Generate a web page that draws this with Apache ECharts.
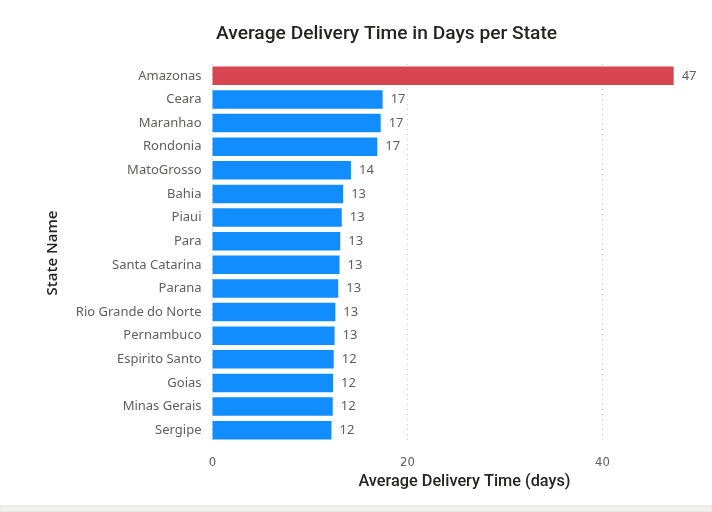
<!DOCTYPE html>
<html><head><meta charset="utf-8">
<script src="https://cdn.jsdelivr.net/npm/echarts@6/dist/echarts.min.js"></script>
<style>html,body{margin:0;padding:0;background:#fff}#c{width:712px;height:512px}</style>
</head><body><div id="c"></div>
<script>
const states = ['Amazonas','Ceara','Maranhao','Rondonia','MatoGrosso','Bahia','Piaui','Para','Santa Catarina','Parana','Rio Grande do Norte','Pernambuco','Espirito Santo','Goias','Minas Gerais','Sergipe'];
const days = [47.3,17.45,17.25,16.9,14.2,13.4,13.26,13.1,13.03,12.9,12.6,12.52,12.43,12.36,12.33,12.2];
const highlight = 'Amazonas';
const xTicks = [0,20,40];

const chart = echarts.init(document.getElementById('c'));
chart.setOption({
  animation:false,
  title:{text:'Average Delivery Time in Days per State',left:211,top:20,
    textStyle:{fontFamily:'Roboto',fontSize:19.2,fontWeight:500,color:'#252423'}},
  grid:{left:212.5,right:31.5,top:64,bottom:70},
  xAxis:{type:'value',min:0,max:48,interval:20,
    name:'Average Delivery Time (days)',nameLocation:'middle',nameGap:32,
    nameTextStyle:{fontFamily:'Roboto',fontSize:16.3,fontWeight:500,color:'#252423',padding:[0,0,0,36]},
    axisLine:{show:false},axisTick:{show:false},
    axisLabel:{margin:14,fontFamily:'DejaVu Sans Condensed',fontSize:13,color:'#605E5C',
      formatter:v=>xTicks.includes(v)?String(v):''},
    splitLine:{show:true,showMaxLine:false,lineStyle:{type:[1,4],color:'#C8C6C4',width:1}}},
  yAxis:{type:'category',data:states,inverse:true,
    name:'State Name',nameLocation:'middle',nameRotate:90,nameGap:152,
    nameTextStyle:{fontFamily:'Open Sans',fontSize:15,fontWeight:600,color:'#252423'},
    axisLine:{show:false},axisTick:{show:false},
    axisLabel:{margin:11,fontFamily:'Noto Sans',fontSize:13,color:'#605E5C'}},
  series:[{type:'bar',barCategoryGap:'22%',
    data:days.map((v,i)=>({value:v,itemStyle:{color:states[i]===highlight?'#D64550':'#118DFF'}})),
    label:{show:true,position:'right',distance:8,fontFamily:'Noto Sans',fontSize:13,color:'#605E5C',
      formatter:p=>Math.round(p.value)}}],
  graphic:[{type:'rect',shape:{x:0,y:506,width:712,height:6},style:{fill:'#F3F2F1',stroke:'#E1DFDD',lineWidth:1}}]
});
</script></body></html>
